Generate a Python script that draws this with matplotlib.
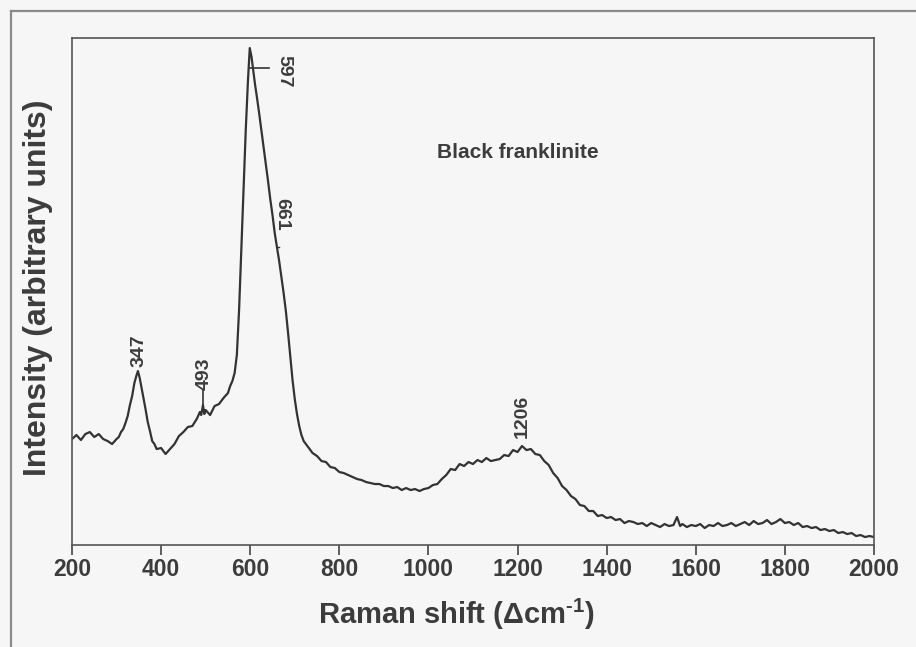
import matplotlib
matplotlib.use("Agg")
import matplotlib.pyplot as plt
from matplotlib.lines import Line2D

# --- Spectrum (Raman shift in cm-1, intensity in arbitrary units) ---
raman_shift = [
    200, 210, 220, 230, 240, 250, 260, 270, 280, 290, 300, 305, 310, 315, 320, 325, 330, 335,
    340, 345, 348, 352, 355, 360, 365, 370, 375, 380, 385, 390, 400, 410, 420, 430, 440, 450,
    460, 470, 480, 487, 490, 494, 497, 500, 510, 520, 530, 540, 550, 555, 560,
    565, 570, 575, 580, 585, 590, 595, 599, 603, 607, 611, 615, 620, 625, 630, 635, 640, 645,
    650, 655, 660, 665, 670, 675, 680, 685, 690, 695, 700, 705, 710, 715, 720,
    730, 740, 750, 760, 770, 780, 790, 800, 810, 820, 830, 840, 850, 860, 870, 880, 890, 900,
    910, 920, 930, 940, 950, 960, 970, 980, 990,
    1000, 1010, 1020, 1030, 1040, 1050, 1060, 1070, 1080, 1090, 1100, 1110, 1120, 1130, 1140,
    1150, 1160, 1170, 1180, 1190, 1200, 1210, 1220, 1230, 1240, 1250, 1260, 1270, 1280, 1290,
    1300, 1310, 1320, 1330, 1340, 1350, 1360, 1370, 1380, 1390, 1400, 1410, 1420, 1430, 1440,
    1450, 1460, 1470, 1480, 1490, 1500, 1510, 1520, 1530, 1540, 1550, 1558, 1565, 1570, 1580,
    1590, 1600, 1610, 1620, 1630, 1640, 1650, 1660, 1670, 1680, 1690, 1700, 1710, 1720, 1730,
    1740, 1750, 1760, 1770, 1780, 1790, 1800, 1810, 1820, 1830, 1840, 1850, 1860, 1870, 1880,
    1890, 1900, 1910, 1920, 1930, 1940, 1950, 1960, 1970, 1980, 1990, 2000,
]
intensity = [
    106, 110, 105, 111, 113, 108, 111, 106, 104, 101, 106, 108, 113, 116, 122, 129, 140, 149,
    162, 170, 174, 167, 160, 148, 136, 123, 114, 104, 101, 96, 97, 91, 96, 101, 109, 113,
    118, 119, 126, 133, 130, 140, 131, 135, 130, 139, 141, 147, 152, 159, 164,
    172, 190, 235, 295, 355, 415, 465, 497, 488, 474, 460, 448, 432, 415, 398, 381, 364, 346,
    330, 312, 298, 284, 268, 252, 234, 212, 188, 165, 146, 131, 119, 110, 104,
    98, 92, 89, 84, 83, 78, 77, 73, 72, 70, 68, 66, 65, 63, 62, 61, 61, 59,
    59, 57, 58, 55, 57, 55, 56, 54, 56,
    57, 60, 61, 66, 70, 76, 75, 81, 79, 83, 81, 85, 83, 87, 84,
    85, 86, 90, 89, 95, 93, 99, 95, 96, 91, 90, 84, 80, 72, 67,
    59, 55, 49, 46, 40, 39, 34, 34, 29, 30, 27, 28, 25, 26, 22,
    24, 23, 21, 22, 19, 22, 20, 18, 21, 19, 20, 28, 19, 21, 18,
    20, 19, 21, 17, 20, 19, 22, 19, 20, 22, 19, 21, 23, 20, 24,
    21, 22, 25, 21, 23, 26, 22, 23, 20, 22, 18, 19, 17, 18, 15,
    16, 14, 15, 12, 13, 11, 12, 9, 10, 8, 9, 8,
]

# peak labels
peak_pos = [347, 493, 1206]
peak_text = ["347", "493", "1206"]
peak_label_base = [178, 155, 107]
x_ticks = [200, 400, 600, 800, 1000, 1200, 1400, 1600, 1800, 2000]

ink = "#333333"
text_col = "#3c3c3c"
paper = "#f6f6f6"

plt.rcParams["font.family"] = ["Liberation Sans", "DejaVu Sans"]
plt.rcParams["font.weight"] = "bold"
plt.rcParams["mathtext.fontset"] = "custom"
plt.rcParams["mathtext.rm"] = "Liberation Sans:bold"
plt.rcParams["mathtext.bf"] = "Liberation Sans:bold"
plt.rcParams["mathtext.default"] = "bf"

fig = plt.figure(figsize=(9.16, 6.47), dpi=100, facecolor=paper)
ax = fig.add_axes([0.0786, 0.1576, 0.8755, 0.7836], facecolor=paper)

# outer frame of the scanned page (only left and top edges are visible)
fig.add_artist(Line2D([11 / 916, 11 / 916], [0, 1 - 11 / 647], transform=fig.transFigure,
                      color="#8a8a8a", lw=1.6))
fig.add_artist(Line2D([11 / 916, 1], [1 - 11 / 647, 1 - 11 / 647], transform=fig.transFigure,
                      color="#8a8a8a", lw=1.6))

ax.plot(raman_shift, intensity, color=ink, lw=1.6)

ax.set_xlim(200, 2000)
ax.set_ylim(0, 507)
ax.set_xticks(x_ticks)
ax.set_xticklabels([str(t) for t in x_ticks], fontsize=16.5, fontweight="bold", color=text_col)
ax.set_yticks([])
ax.tick_params(axis="x", direction="out", length=7, width=1.2, color="#444444", pad=2)
for s in ax.spines.values():
    s.set_color("#555555")
    s.set_linewidth(1.2)

# rotated labels reading bottom -> top
for p, t, b in zip(peak_pos, peak_text, peak_label_base):
    ax.text(p + 4, b, t, rotation=90, ha="center", va="bottom", fontsize=14,
            fontweight="bold", color=text_col)
ax.plot([494, 494], [138, 155], color=ink, lw=1.2)

# rotated labels reading top -> bottom
ax.plot([598, 643], [477, 477], color=ink, lw=1.2)
ax.text(656, 474, "597", rotation=270, ha="left", va="center", fontsize=14,
        fontweight="bold", color=text_col)
ax.plot([661, 665], [298, 298], color=ink, lw=1.0)
ax.text(651, 331, "661", rotation=270, ha="left", va="center", fontsize=14,
        fontweight="bold", color=text_col)

ax.text(1019, 393, "Black franklinite", ha="left", va="center", fontsize=15,
        fontweight="bold", color=text_col)

ax.set_xlabel("Raman shift (\u0394cm$^{\\text{-1}}$)", fontsize=21, fontweight="bold",
              color=text_col)
ax.xaxis.set_label_coords(0.479, -0.103)
ax.set_ylabel("Intensity (arbitrary units)", fontsize=23, fontweight="bold", color=text_col)
ax.yaxis.set_label_coords(-0.0237, 0.507)

fig.savefig("out.png", dpi=100, facecolor=paper)
